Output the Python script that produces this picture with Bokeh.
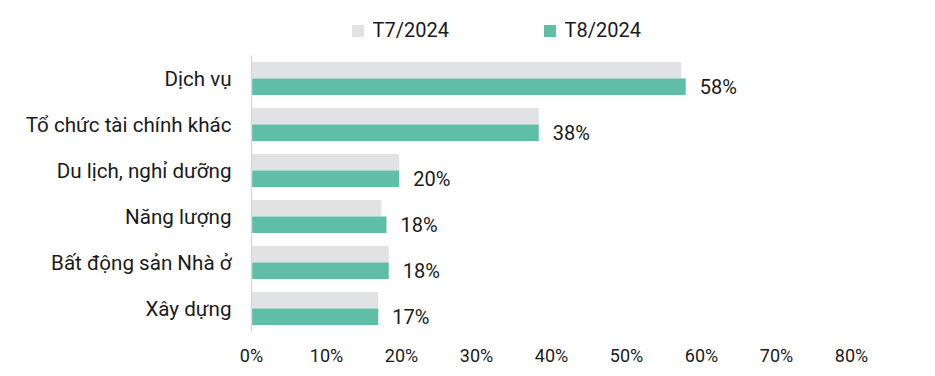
from bokeh.plotting import figure
from bokeh.layouts import column
from bokeh.models import (FactorRange, ColumnDataSource, FixedTicker, PrintfTickFormatter,
                          Legend, LegendItem, Range1d)
from bokeh.transform import dodge
from bokeh.core.properties import value
from bokeh.embed import file_html
from bokeh.resources import INLINE

categories = ["Dịch vụ", "Tổ chức tài chính khác", "Du lịch, nghỉ dưỡng",
              "Năng lượng", "Bất động sản Nhà ở", "Xây dựng"]
t7_values = [57.3, 38.3, 19.7, 17.3, 18.3, 16.9]
t8_values = [57.9, 38.3, 19.7, 18.0, 18.3, 16.9]
series_names = ["T7/2024", "T8/2024"]
x_ticks = [0, 10, 20, 30, 40, 50, 60, 70, 80]

FONT = "Roboto"
GREY = "#e1e2e4"
TEAL = "#60bea8"
TXT = "#1a1a1a"
COLORS = [GREY, TEAL]

src = ColumnDataSource(dict(
    cat=categories,
    t7=t7_values,
    t8=t8_values,
    lab=[f"{round(v)}%" for v in t8_values],
))

# ---- main chart ----
p = figure(width=935, height=321, output_backend="svg", toolbar_location=None,
           y_range=FactorRange(factors=list(reversed(categories))),
           x_range=Range1d(0, 80),
           min_border_left=251, min_border_right=84, min_border_top=0, min_border_bottom=45)
p.outline_line_color = None
p.xgrid.visible = False
p.ygrid.visible = False
p.background_fill_color = "white"
p.border_fill_color = "white"

p.hbar(y=dodge("cat", 0.18, range=p.y_range), right="t7", left=0, height=0.36,
       source=src, fill_color=GREY, line_color=None)
p.hbar(y=dodge("cat", -0.18, range=p.y_range), right="t8", left=0, height=0.36,
       source=src, fill_color=TEAL, line_color=None)

p.text(x="t8", y=dodge("cat", -0.18, range=p.y_range), text="lab", source=src,
       x_offset=14, text_baseline="middle", text_align="left",
       text_font=value(FONT), text_font_size="20px", text_color=TXT)

xa = p.xaxis[0]
xa.ticker = FixedTicker(ticks=x_ticks)
xa.formatter = PrintfTickFormatter(format="%d%%")
xa.axis_line_color = None
xa.major_tick_line_color = None
xa.minor_tick_line_color = None
xa.major_tick_out = 0
xa.major_tick_in = 0
xa.minor_tick_out = 0
xa.major_label_standoff = 13
xa.major_label_text_font = FONT
xa.major_label_text_font_size = "18px"
xa.major_label_text_color = TXT

ya = p.yaxis[0]
ya.axis_line_color = "#d9d9d9"
ya.axis_line_width = 1.5
ya.major_tick_line_color = None
ya.minor_tick_line_color = None
ya.major_tick_out = 0
ya.major_tick_in = 0
ya.minor_tick_out = 0
ya.major_label_standoff = 20
ya.major_label_text_font = FONT
ya.major_label_text_font_size = "20.6px"
ya.major_label_text_color = TXT

# ---- legend strip (frame is aligned with the main chart's frame) ----
lf = figure(width=935, height=55, output_backend="svg", toolbar_location=None,
            x_range=Range1d(0, 1), y_range=Range1d(0, 1),
            min_border=0, min_border_left=0, min_border_right=0,
            min_border_top=0, min_border_bottom=0)
lf.axis.visible = False
lf.grid.visible = False
lf.outline_line_color = None
lf.border_fill_color = "white"
proxy = ColumnDataSource(dict(y=[0.5], right=[0]))  # zero-width legend proxies
items = []
for name, col in zip(series_names, COLORS):
    r = lf.hbar(y="y", right="right", left=0, height=0.5, source=proxy,
                fill_color=col, line_color=None)
    items.append(LegendItem(label=name, renderers=[r]))

legend = Legend(items=items, orientation="horizontal", location=(98.5, 13),
                glyph_width=15, glyph_height=15, label_standoff=8, spacing=92,
                label_width=77, padding=0, margin=0, border_line_color=None,
                background_fill_alpha=0,
                label_text_font=FONT, label_text_font_size="20px", label_text_color=TXT)
lf.add_layout(legend, "center")

layout = column(lf, p, spacing=0)
open("out.html", "w").write(file_html(layout, INLINE))
